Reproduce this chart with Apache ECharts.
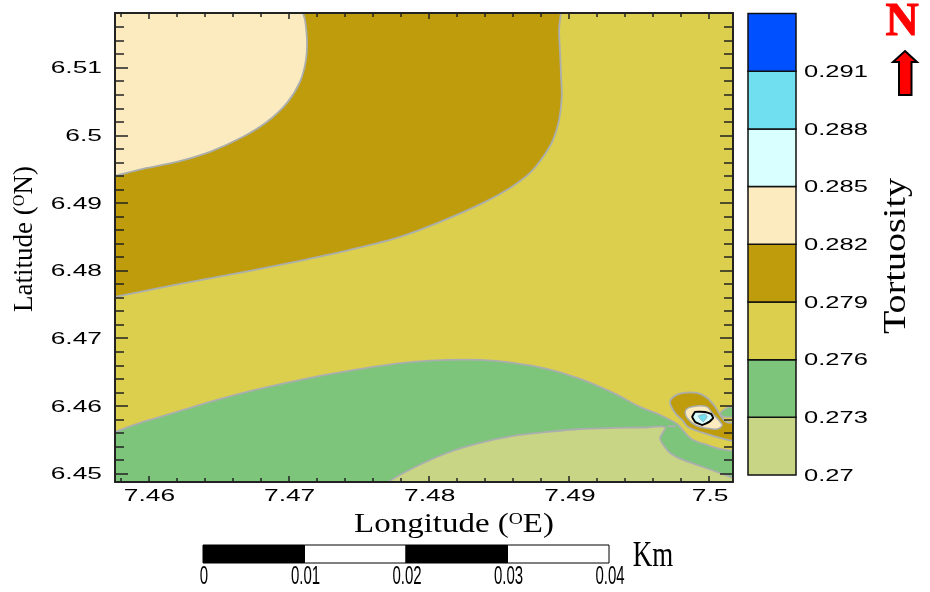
<!DOCTYPE html>
<html>
<head>
<meta charset="utf-8">
<style>html,body{margin:0;padding:0;background:#fff}#c{width:930px;height:592px}</style>
<script src="https://cdn.jsdelivr.net/npm/echarts@6/dist/echarts.min.js"></script>
</head>
<body>
<div id="c"></div>
<script>
// Axis ranges and ticks
const lonRange = [7.45761, 7.50171];
const latRange = [6.44874, 6.51809];
const lonMajor = [7.46, 7.47, 7.48, 7.49, 7.5];
const lonMinor = [7.458, 7.462, 7.464, 7.466, 7.468, 7.472, 7.474, 7.476, 7.478, 7.482, 7.484, 7.486, 7.488, 7.492, 7.494, 7.496, 7.498];
const latMajor = [6.45, 6.46, 6.47, 6.48, 6.49, 6.5, 6.51];
const latMinor = [6.452, 6.454, 6.456, 6.458, 6.462, 6.464, 6.466, 6.468, 6.472, 6.474, 6.476, 6.478, 6.482, 6.484, 6.486, 6.488, 6.492, 6.494, 6.496, 6.498, 6.502, 6.504, 6.506, 6.508, 6.512, 6.514, 6.516];

// Tortuosity classes
const levelTicks = [0.27, 0.273, 0.276, 0.279, 0.282, 0.285, 0.288, 0.291];
const levelStep = 0.003;
const levelColors = ['#C8D585', '#7DC57A', '#DBCF4D', '#BE9C0B', '#FCEBBF', '#D9FFFF', '#70DFF0', '#0050FF'];

// Scale bar (km)
const scaleTicks = [0, 0.01, 0.02, 0.03, 0.04];

// Contour outlines [lon, lat]
const goldBand = [[7.45582,6.47537],[7.45761,6.47611],[7.46225,6.47803],[7.46724,6.47996],[7.47081,6.48144],[7.47438,6.48306],[7.47795,6.48499],[7.48081,6.48720],[7.48388,6.49002],[7.48580,6.49223],[7.48723,6.49445],[7.48816,6.49682],[7.48887,6.49933],[7.48930,6.50229],[7.48949,6.50570],[7.48944,6.50865],[7.48937,6.51221],[7.48930,6.51561],[7.48942,6.51812],[7.48952,6.523],[7.45582,6.523]];
const creamBand = [[7.45582,6.49312],[7.45761,6.49401],[7.45961,6.49505],[7.46203,6.49608],[7.46439,6.49756],[7.46675,6.49978],[7.46846,6.50200],[7.46989,6.50481],[7.47081,6.50791],[7.47124,6.51117],[7.47131,6.51413],[7.47117,6.51709],[7.47103,6.51812],[7.47081,6.523],[7.45582,6.523]];
const greenBand = [[7.45582,6.45481],[7.45761,6.45614],[7.45961,6.45762],[7.46203,6.45910],[7.46439,6.46058],[7.46675,6.46191],[7.46917,6.46309],[7.47153,6.46413],[7.47388,6.46502],[7.47652,6.46590],[7.47888,6.46649],[7.48131,6.46679],[7.48366,6.46679],[7.48602,6.46635],[7.48845,6.46546],[7.49080,6.46398],[7.49316,6.46191],[7.49508,6.45984],[7.49651,6.45865],[7.49722,6.45791],[7.49780,6.45717],[7.49830,6.45599],[7.49887,6.45496],[7.49987,6.45422],[7.50079,6.45362],[7.50172,6.45333],[7.50365,6.45274],[7.50365,6.4446],[7.45582,6.4446]];
const oliveBand = [[7.47581,6.44667],[7.47710,6.44874],[7.47888,6.45081],[7.48131,6.45303],[7.48366,6.45451],[7.48602,6.45555],[7.48845,6.45614],[7.49080,6.45658],[7.49316,6.45673],[7.49544,6.45680],[7.49687,6.45688],[7.49651,6.45525],[7.49665,6.45451],[7.49722,6.45303],[7.49815,6.45200],[7.49958,6.45096],[7.50079,6.45007],[7.50172,6.44933],[7.50365,6.44786],[7.50365,6.4446],[7.47581,6.4446]];
const oliveSliver = [[7.49708,6.45703],[7.49758,6.45703],[7.49758,6.45692],[7.49708,6.45692]];
const goldBlob = [[7.49722,6.46043],[7.49744,6.46132],[7.49815,6.46191],[7.49915,6.46191],[7.49987,6.46117],[7.50044,6.45984],[7.50079,6.45865],[7.50122,6.45762],[7.50172,6.45747],[7.50365,6.45732],[7.50365,6.45466],[7.50172,6.45481],[7.50079,6.45525],[7.49958,6.45599],[7.49851,6.45688],[7.49808,6.45791],[7.49758,6.45895]];
const greenPatch = [[7.50172,6.45984],[7.50129,6.45969],[7.50086,6.45910],[7.50086,6.45865],[7.50115,6.45836],[7.50172,6.45836],[7.50365,6.45836],[7.50365,6.45984]];
const creamBlob = [[7.49830,6.45910],[7.49851,6.45969],[7.49915,6.45999],[7.49987,6.45984],[7.50022,6.45895],[7.50094,6.45717],[7.50058,6.45658],[7.49972,6.45673],[7.49901,6.45717],[7.49844,6.45821]];
const paleBlob = [[7.49880,6.45836],[7.49901,6.45910],[7.49972,6.45910],[7.50015,6.45880],[7.50029,6.45821],[7.50001,6.45762],[7.49951,6.45717],[7.49901,6.45762]];
const cyanBlob = [[7.49922,6.45851],[7.49972,6.45880],[7.49987,6.45836],[7.49958,6.45762],[7.49937,6.45806]];

const grey = '#ABAEAE';
const regions = [
  {pts: goldBand, fill: levelColors[3], stroke: grey, w: 1.8, s: 0.33},
  {pts: creamBand, fill: levelColors[4], stroke: grey, w: 1.8, s: 0.33},
  {pts: greenBand, fill: levelColors[1], stroke: grey, w: 1.8, s: 0.33},
  {pts: oliveBand, fill: levelColors[0], stroke: grey, w: 1.8, s: 0.28},
  {pts: oliveSliver, fill: levelColors[0], stroke: grey, w: 1.2, s: 0},
  {pts: goldBlob, fill: levelColors[3], stroke: grey, w: 1.8, s: 0.33},
  {pts: greenPatch, fill: levelColors[1], stroke: grey, w: 1.5, s: 0.3},
  {pts: creamBlob, fill: levelColors[4], stroke: grey, w: 1.5, s: 0.3},
  {pts: paleBlob, fill: levelColors[5], stroke: '#000', w: 2, s: 0.1},
  {pts: cyanBlob, fill: levelColors[6], stroke: grey, w: 1, s: 0.1}
];

const tickColor = '#222';
const sans = 'Liberation Sans';
const serif = 'Liberation Serif';

function axis(kind, range, pos, gridIndex, vals, len, line) {
  return {
    type: 'value', gridIndex, position: pos, min: range[0], max: range[1], z: 10,
    axisLine: {show: line, onZero: false, lineStyle: {color: tickColor, width: 2}},
    axisTick: {show: true, inside: true, length: len, customValues: vals, lineStyle: {color: tickColor, width: 1.5}},
    axisLabel: {show: false}, splitLine: {show: false}, minorTick: {show: false}
  };
}
function hidden(min, max, gridIndex) {
  return {type: 'value', gridIndex, min, max, show: false, splitLine: {show: false}};
}
function txt(x, y, text, size, family, scaleX, align, valign, fill, weight) {
  return {type: 'text', x, y, scaleX, silent: true, style: {
    text, fontSize: size, fontFamily: family, fontWeight: weight || 'normal', fill: fill || '#000',
    align, textAlign: align, verticalAlign: valign, textVerticalAlign: valign
  }};
}

const mainRect = {left: 115, top: 13, width: 618, height: 469};
const option = {
  animation: false,
  backgroundColor: '#fff',
  grid: [
    Object.assign({show: true, borderWidth: 0, backgroundColor: levelColors[2]}, mainRect),
    Object.assign({}, mainRect),
    {left: 748, top: 13.5, width: 48, height: 461.5},
    {left: 203, top: 545, width: 406, height: 18}
  ],
  xAxis: [
    axis('x', lonRange, 'bottom', 0, lonMajor, 6, true),
    axis('x', lonRange, 'top', 0, lonMajor, 6, true),
    axis('x', lonRange, 'bottom', 1, lonMinor, 4, false),
    axis('x', lonRange, 'top', 1, lonMinor, 4, false),
    hidden(0, 1, 2),
    hidden(scaleTicks[0], scaleTicks[scaleTicks.length - 1], 3)
  ],
  yAxis: [
    axis('y', latRange, 'left', 0, latMajor, 13, true),
    axis('y', latRange, 'right', 0, latMajor, 13, true),
    axis('y', latRange, 'left', 1, latMinor, 9, false),
    axis('y', latRange, 'right', 1, latMinor, 9, false),
    hidden(levelTicks[0], levelTicks[levelTicks.length - 1] + levelStep, 2),
    hidden(0, 1, 3)
  ],
  series: [
    {
      type: 'custom', coordinateSystem: 'cartesian2d', xAxisIndex: 0, yAxisIndex: 0, clip: true, z: 2,
      data: regions.map((r, i) => i),
      renderItem(params, api) {
        const r = regions[params.dataIndex];
        return {
          type: 'polygon', silent: true,
          shape: {points: r.pts.map(p => api.coord(p)), smooth: r.s},
          style: {fill: r.fill, stroke: r.stroke, lineWidth: r.w, lineJoin: 'round'}
        };
      }
    },
    {
      type: 'custom', coordinateSystem: 'cartesian2d', xAxisIndex: 0, yAxisIndex: 0, z: 5,
      data: lonMajor,
      renderItem(params, api) {
        const p = api.coord([api.value(0), latRange[0]]);
        return txt(p[0] + 1, p[1] + 14, String(lonMajor[params.dataIndex]), 17, sans, 1.55, 'center', 'middle');
      }
    },
    {
      type: 'custom', coordinateSystem: 'cartesian2d', xAxisIndex: 0, yAxisIndex: 0, z: 5,
      data: latMajor,
      renderItem(params, api) {
        const p = api.coord([lonRange[0], latMajor[params.dataIndex]]);
        return txt(p[0] - 13, p[1] + 1, String(latMajor[params.dataIndex]), 17, sans, 1.55, 'right', 'middle');
      }
    },
    {
      type: 'custom', coordinateSystem: 'cartesian2d', xAxisIndex: 4, yAxisIndex: 4, z: 2,
      data: levelTicks,
      renderItem(params, api) {
        const v = levelTicks[params.dataIndex];
        const a = api.coord([0, v]), b = api.coord([1, v + levelStep]);
        return {
          type: 'rect', silent: true,
          shape: {x: a[0], y: b[1], width: b[0] - a[0], height: a[1] - b[1]},
          style: {fill: levelColors[params.dataIndex], stroke: '#111', lineWidth: 1.5}
        };
      }
    },
    {
      type: 'custom', coordinateSystem: 'cartesian2d', xAxisIndex: 4, yAxisIndex: 4, z: 5,
      data: levelTicks,
      renderItem(params, api) {
        const v = levelTicks[params.dataIndex];
        const p = api.coord([1, v]);
        return txt(p[0] + 8, p[1] + 1, String(v), 17, sans, 1.5, 'left', 'middle');
      }
    },
    {
      type: 'custom', coordinateSystem: 'cartesian2d', xAxisIndex: 5, yAxisIndex: 5, z: 2,
      data: scaleTicks.slice(0, -1),
      renderItem(params, api) {
        const i = params.dataIndex;
        const a = api.coord([scaleTicks[i], 0]), b = api.coord([scaleTicks[i + 1], 1]);
        return {
          type: 'rect', silent: true,
          shape: {x: a[0], y: b[1], width: b[0] - a[0], height: a[1] - b[1]},
          style: {fill: i % 2 === 0 ? '#000' : '#fff', stroke: '#000', lineWidth: 1}
        };
      }
    },
    {
      type: 'custom', coordinateSystem: 'cartesian2d', xAxisIndex: 5, yAxisIndex: 5, z: 5,
      data: scaleTicks,
      renderItem(params, api) {
        const p = api.coord([scaleTicks[params.dataIndex], 0]);
        return txt(p[0] + 1, p[1] + 14, String(scaleTicks[params.dataIndex]), 25, sans, 0.6, 'center', 'middle');
      }
    }
  ],
  graphic: [
    {type: 'text', x: 454, y: 525, scaleX: 1.22, silent: true, style: {
      text: 'Longitude ({s|O}E)', fontSize: 27, fontFamily: serif, fill: '#000', align: 'center', verticalAlign: 'middle',
      rich: {s: {fontSize: 16, fontFamily: serif, verticalAlign: 'top', fill: '#000'}}
    }},
    {type: 'text', x: 25, y: 239, rotation: Math.PI / 2, scaleX: 1.0, silent: true, style: {
      text: 'Latitude ({s|O}N)', fontSize: 27, fontFamily: serif, fill: '#000', align: 'center', verticalAlign: 'middle',
      rich: {s: {fontSize: 16, fontFamily: serif, verticalAlign: 'top', fill: '#000'}}
    }},
    {type: 'text', x: 897, y: 256, rotation: Math.PI / 2, scaleX: 1.19, silent: true, style: {
      text: 'Tortuosity', fontSize: 32, fontFamily: serif, fill: '#000', align: 'center', verticalAlign: 'middle'
    }},
    {type: 'text', x: 902, y: 23, silent: true, style: {
      text: 'N', fontSize: 46, fontWeight: 'bold', fontFamily: serif, fill: '#FF0000', stroke: '#FF0000', lineWidth: 1, align: 'center', verticalAlign: 'middle'
    }},
    {type: 'polygon', silent: true, shape: {points: [[905,51],[917,62],[911.5,62],[911.5,95],[899,95],[899,62],[893,62]]},
      style: {fill: '#FF0000', stroke: '#000', lineWidth: 2}},
    {type: 'text', x: 653, y: 557, scaleX: 0.77, silent: true, style: {
      text: 'Km', fontSize: 35, fontFamily: serif, fill: '#000', align: 'center', verticalAlign: 'middle'
    }}
  ]
};
const chart = echarts.init(document.getElementById('c'), null, {renderer: 'canvas', width: 930, height: 592});
chart.setOption(option);
</script>
</body>
</html>
